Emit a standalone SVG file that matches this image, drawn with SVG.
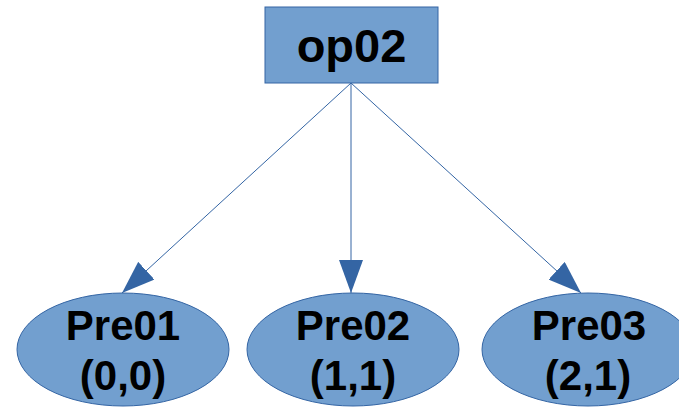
<svg xmlns="http://www.w3.org/2000/svg" width="679" height="410" viewBox="0 0 679 410">
<style>
.n{fill:#729fcf;stroke:#3465a4;stroke-width:1}
.t{font-family:"Liberation Sans",Arial,sans-serif;font-weight:bold;fill:#000;text-anchor:middle;font-size:42px}
.e{stroke:#3465a4;stroke-width:1;fill:none}
</style>
<defs>
<marker id="a" viewBox="0 0 33 24" refX="33" refY="12" markerWidth="33" markerHeight="24" markerUnits="userSpaceOnUse" orient="auto">
<path d="M0,0 L33,12 L0,24 Z" fill="#3465a4"/>
</marker>
</defs>
<rect width="679" height="410" fill="#fff"/>
<g id="connectors">
<line class="e" x1="351" y1="83" x2="122" y2="293" marker-end="url(#a)"/>
<line class="e" x1="351" y1="83" x2="351" y2="293" marker-end="url(#a)"/>
<line class="e" x1="351" y1="83" x2="581" y2="293" marker-end="url(#a)"/>
</g>
<g id="op02">
<rect class="n" x="265" y="7" width="173" height="76"/>
<text class="t" x="351.5" y="62" font-size="47" style="font-size:47px">op02</text>
</g>
<g id="pre01">
<ellipse class="n" cx="123" cy="349.5" rx="106" ry="56.5"/>
<text class="t" x="123" y="340">Pre01</text>
<text class="t" x="123" y="390">(0,0)</text>
</g>
<g id="pre02">
<ellipse class="n" cx="353" cy="349.5" rx="106" ry="56.5"/>
<text class="t" x="353" y="340">Pre02</text>
<text class="t" x="353" y="390">(1,1)</text>
</g>
<g id="pre03">
<ellipse class="n" cx="588" cy="349.5" rx="106" ry="56.5"/>
<text class="t" x="589" y="340">Pre03</text>
<text class="t" x="588" y="390">(2,1)</text>
</g>
</svg>
